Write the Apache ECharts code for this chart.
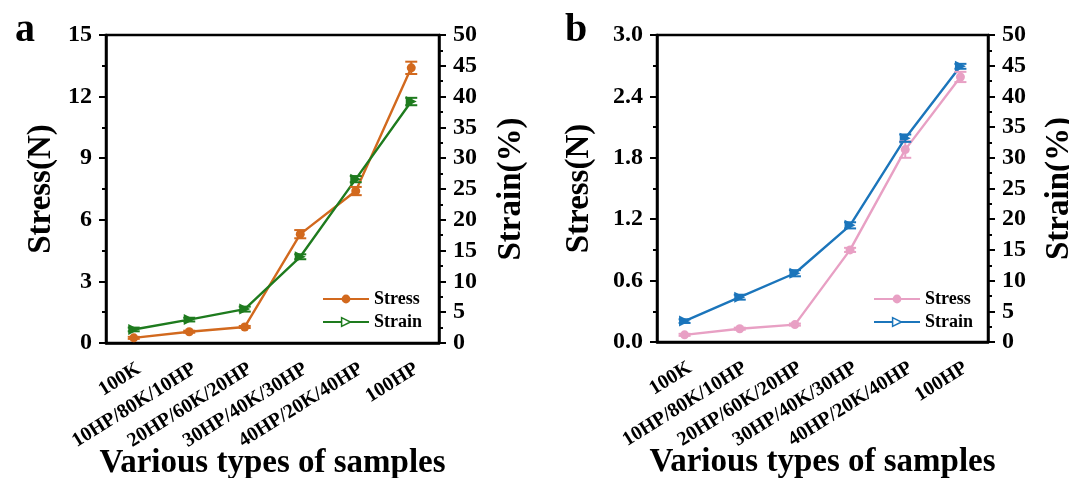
<!DOCTYPE html>
<html><head><meta charset="utf-8">
<script src="https://cdn.jsdelivr.net/npm/echarts@6/dist/echarts.min.js"></script>
<style>html,body{margin:0;padding:0;background:#fff}#c{width:1069px;height:478px}</style>
</head><body><div id="c"></div>
<script>
const categories = ['100K','10HP/80K/10HP','20HP/60K/20HP','30HP/40K/30HP','40HP/20K/40HP','100HP'];
const stressA = [0.25, 0.55, 0.78, 5.3, 7.4, 13.4];
const stressAErr = [0.05, 0.05, 0.05, 0.2, 0.2, 0.3];
const strainA = [2.2, 3.8, 5.5, 14.0, 26.6, 39.2];
const strainAErr = [0.3, 0.3, 0.4, 0.4, 0.5, 0.6];
const stressB = [0.07, 0.13, 0.17, 0.90, 1.88, 2.59];
const stressBErr = [0.01, 0.01, 0.01, 0.02, 0.08, 0.05];
const strainB = [3.4, 7.3, 11.2, 19.0, 33.2, 44.9];
const strainBErr = [0.3, 0.4, 0.5, 0.5, 0.6, 0.4];
const stressTicksA = [0, 15, 3];
const stressTicksB = [0, 3.0, 0.6];
const strainTicks = [0, 50, 5];

const FONT = "'Liberation Serif','Times New Roman',serif";
const C = {orange:'#D2691E', green:'#1E7B1E', pink:'#E8A0C4', blue:'#1B75BB'};

const chart = echarts.init(document.getElementById('c'));

function xAx(gi){
  return {type:'category', gridIndex:gi, data:categories, boundaryGap:true,
    axisLine:{lineStyle:{color:'#000', width:2.5}},
    axisTick:{alignWithLabel:true, length:7, lineStyle:{width:2, color:'#000'}},
    axisLabel:{interval:0, rotate:32, fontFamily:FONT, fontWeight:'bold', fontSize:20, color:'#000',
      margin:16, verticalAlign:'top'},
    name:'Various types of samples', nameLocation:'middle', nameGap:104, nameMoveOverlap:false,
    nameTextStyle:{fontFamily:FONT, fontWeight:'bold', fontSize:33, color:'#000'}};
}
function yAx(gi, pos, t, name, gap, fmt){
  return {type:'value', gridIndex:gi, position:pos, min:t[0], max:t[1], interval:t[2],
    splitLine:{show:false},
    axisLine:{show:true, lineStyle:{color:'#000', width:2.5}},
    axisTick:{show:true, length:7, lineStyle:{width:2, color:'#000'}},
    minorTick:{show:true, splitNumber:2, length:4, lineStyle:{width:2, color:'#000'}},
    axisLabel:{fontFamily:FONT, fontWeight:'bold', fontSize:24, color:'#000', margin:14,
      formatter: fmt || (v=>String(Math.round(v)))},
    name:name, nameLocation:'middle', nameGap:gap, nameRotate:90, nameMoveOverlap:false,
    nameTextStyle:{fontFamily:FONT, fontWeight:'bold', fontSize:33, color:'#000'}};
}
function lineS(name, data, color, xi, yi, sym){
  return {type:'line', name:name, data:data, xAxisIndex:xi, yAxisIndex:yi,
    symbol:sym, symbolSize: sym==='circle'?9:11, symbolRotate: sym==='triangle'?-90:0,
    lineStyle:{color:color, width:2.4}, itemStyle:{color:color}, z:3};
}
function errS(vals, errs, color, xi, yi){
  return {type:'custom', xAxisIndex:xi, yAxisIndex:yi, silent:true, z:4,
    data: vals.map((v,i)=>[i, v, errs[i]]),
    encode:{x:0, y:1},
    renderItem:function(params, api){
      const x = api.value(0), v = api.value(1), e = api.value(2);
      const top = api.coord([x, v+e]), bot = api.coord([x, v-e]);
      const w = 6;
      const st = {stroke:color, lineWidth:2};
      return {type:'group', children:[
        {type:'line', shape:{x1:top[0], y1:top[1], x2:bot[0], y2:bot[1]}, style:st},
        {type:'line', shape:{x1:top[0]-w, y1:top[1], x2:top[0]+w, y2:top[1]}, style:st},
        {type:'line', shape:{x1:bot[0]-w, y1:bot[1], x2:bot[0]+w, y2:bot[1]}, style:st}
      ]};
    }};
}
function legend(left, names){
  return {orient:'vertical', left:left, top:285, itemWidth:46, itemHeight:11, itemGap:5,
    data:names, textStyle:{fontFamily:FONT, fontWeight:'bold', fontSize:18, color:'#000'},
    selectedMode:false};
}

const option = {
  animation:false,
  backgroundColor:'#fff',
  title:[
    {text:'a', left:10, top:6, textStyle:{fontFamily:FONT, fontWeight:'bold', fontSize:40, color:'#000'}},
    {text:'b', left:560, top:6, textStyle:{fontFamily:FONT, fontWeight:'bold', fontSize:40, color:'#000'}}
  ],
  grid:[
    {left:106, right:630, top:35, bottom:135, outerBoundsMode:'none', containLabel:false, show:true, borderColor:'#000', borderWidth:2.5, backgroundColor:'transparent'},
    {left:657, right:81, top:35, bottom:136, outerBoundsMode:'none', containLabel:false, show:true, borderColor:'#000', borderWidth:2.5, backgroundColor:'transparent'}
  ],
  legend:[
    legend(317, [{name:'Stress'},{name:'Strain', itemStyle:{color:'#fff', borderColor:C.green, borderWidth:1.5}}]),
    legend(868, [{name:'Stress '},{name:'Strain ', itemStyle:{color:'#fff', borderColor:C.blue, borderWidth:1.5}}])
  ],
  xAxis:[xAx(0), xAx(1)],
  yAxis:[
    yAx(0,'left',stressTicksA,'Stress(N)',48),
    yAx(0,'right',strainTicks,'Strain(%)',56),
    yAx(1,'left',stressTicksB,'Stress(N)',61, v=>v.toFixed(1)),
    yAx(1,'right',strainTicks,'Strain(%)',55)
  ],
  series:[
    lineS('Stress', stressA, C.orange, 0, 0, 'circle'),
    lineS('Strain', strainA, C.green, 0, 1, 'triangle'),
    errS(stressA, stressAErr, C.orange, 0, 0),
    errS(strainA, strainAErr, C.green, 0, 1),
    lineS('Stress ', stressB, C.pink, 1, 2, 'circle'),
    lineS('Strain ', strainB, C.blue, 1, 3, 'triangle'),
    errS(stressB, stressBErr, C.pink, 1, 2),
    errS(strainB, strainBErr, C.blue, 1, 3)
  ]
};
chart.setOption(option);
</script>
</body></html>
